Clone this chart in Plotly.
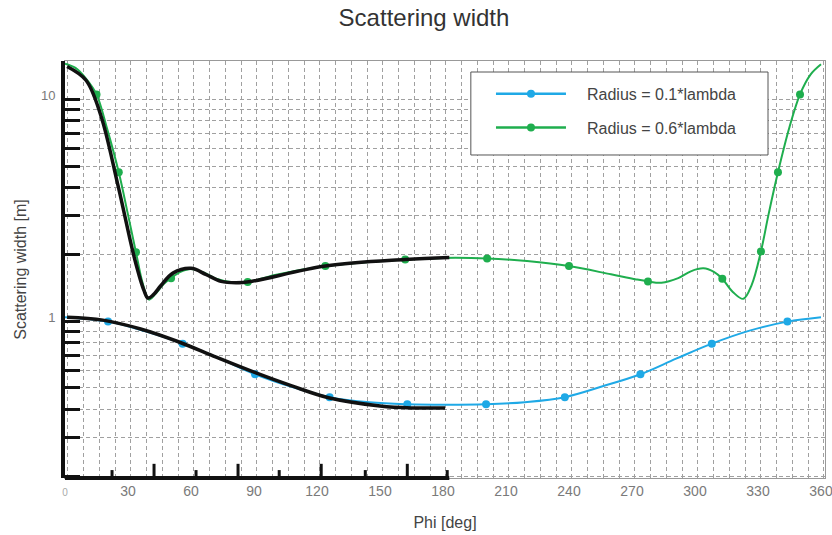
import plotly.graph_objects as go

# ---------------- data ----------------
phi_blue = [0, 20.5, 38, 56, 73, 90.5, 108, 126, 145, 163, 181,
            200.5, 219, 238, 256, 274, 291, 308, 326, 344, 360]
sw_blue = [1.0, 0.955, 0.865, 0.76, 0.655, 0.553, 0.485, 0.436, 0.413, 0.405, 0.403,
           0.405, 0.414, 0.436, 0.488, 0.553, 0.65, 0.76, 0.87, 0.955, 1.0]
phi_blue_markers = [20.5, 56, 90.5, 126, 163, 200.5, 238, 274, 308, 344]
sw_blue_markers = [0.955, 0.76, 0.553, 0.436, 0.405, 0.405, 0.436, 0.553, 0.76, 0.955]

phi_green = [0, 5, 10, 15, 20, 25.6, 30, 33.8, 37, 40, 43, 47, 50.5, 55, 60, 66, 72, 79, 87,
             100, 124, 140, 162, 180, 201, 220, 240, 260, 272, 277.6, 284, 292, 298, 304,
             309, 313, 318, 323, 327, 331.4, 335, 339.5, 345, 350, 355, 360]
sw_green = [13.9, 13.3, 11.9, 10.1, 7.1, 4.5, 2.9, 1.96, 1.42, 1.2, 1.27, 1.41, 1.5, 1.6, 1.65,
            1.59, 1.49, 1.44, 1.44, 1.55, 1.70, 1.76, 1.82, 1.85, 1.84, 1.79, 1.70, 1.56, 1.48,
            1.45, 1.43, 1.5, 1.61, 1.66, 1.6, 1.49, 1.3, 1.21, 1.4, 1.98, 2.9, 4.5, 7.2, 10.1,
            12.4, 13.8]
phi_green_markers = [15, 25.6, 33.8, 50.5, 87, 124, 162, 201, 240, 277.6, 313, 331.4, 339.5, 350]
sw_green_markers = [10.1, 4.5, 1.96, 1.5, 1.44, 1.70, 1.82, 1.84, 1.70, 1.45, 1.49, 1.98, 4.5, 10.1]

# hand-drawn black overlay strokes
phi_sketch_green = [1, 10, 17.1, 25.2, 33.3, 37.6, 39.5, 42, 45.7, 51.4, 60, 67, 74.3, 81.4,
                    88.6, 124, 162, 183]
sw_sketch_green = [13.5, 11.7, 8.1, 3.94, 1.81, 1.32, 1.22, 1.26, 1.39, 1.58, 1.66, 1.56, 1.45,
                   1.43, 1.45, 1.70, 1.82, 1.86]
phi_sketch_blue = [1, 18, 36, 54, 72, 90, 108, 126, 150, 165, 181]
sw_sketch_blue = [1.0, 0.97, 0.885, 0.775, 0.66, 0.565, 0.49, 0.432, 0.398, 0.39, 0.39]
sketch_axis_end = 183
sketch_tick_phi = [22.4, 42.4, 62.4, 82.4, 102, 122, 143, 163, 182]
sketch_tick_tall = [False, True, False, True, False, True, False, True, False]

x_tick_vals = [0, 30, 60, 90, 120, 150, 180, 210, 240, 270, 300, 330, 360]
y_tick_vals = [1, 10]

series_names = ["Radius = 0.1*lambda", "Radius = 0.6*lambda"]
BLUE = "#1fa9e6"
GREEN = "#1fae4e"
INK = "#111111"
GRID = "#a0a0a0"
PAD = "\u2002\u2002"  # visual gap between legend symbol and its label


def gapped(vals):
    out = []
    for v in vals:
        out += [v, None]
    return out


fig = go.Figure()

# smooth curves
fig.add_trace(go.Scatter(x=phi_blue, y=sw_blue, mode="lines", line=dict(color=BLUE, width=2, shape="spline"),
                         showlegend=False, legendgroup="b", hoverinfo="skip"))
fig.add_trace(go.Scatter(x=phi_green, y=sw_green, mode="lines", line=dict(color=GREEN, width=2, shape="spline"),
                         showlegend=False, legendgroup="g", hoverinfo="skip"))
# markers (+ legend entries)
fig.add_trace(go.Scatter(x=gapped(phi_blue_markers), y=gapped(sw_blue_markers), mode="lines+markers",
                         name=PAD + series_names[0], legendgroup="b", connectgaps=False,
                         line=dict(color=BLUE, width=2.5), marker=dict(color=BLUE, size=8)))
fig.add_trace(go.Scatter(x=gapped(phi_green_markers), y=gapped(sw_green_markers), mode="lines+markers",
                         name=PAD + series_names[1], legendgroup="g", connectgaps=False,
                         line=dict(color=GREEN, width=2.5), marker=dict(color=GREEN, size=8)))
# black sketch strokes
fig.add_trace(go.Scatter(x=phi_sketch_green, y=sw_sketch_green, mode="lines",
                         line=dict(color=INK, width=3.5, shape="spline"), showlegend=False, hoverinfo="skip"))
fig.add_trace(go.Scatter(x=phi_sketch_blue, y=sw_sketch_blue, mode="lines",
                         line=dict(color=INK, width=3.5, shape="spline"), showlegend=False, hoverinfo="skip"))
# helper (empty) trace so the grid / sketch y-axis is drawn
fig.add_trace(go.Scatter(x=[], y=[], xaxis="x", yaxis="y2", showlegend=False, hoverinfo="skip"))

# sketched bottom axis line and its ticks
shapes = [dict(type="line", xref="x", yref="paper", x0=0, x1=sketch_axis_end, y0=0, y1=0,
               line=dict(color=INK, width=4))]
for p, tall in zip(sketch_tick_phi, sketch_tick_tall):
    shapes.append(dict(type="line", xref="x", yref="paper", x0=p, x1=p, y0=0,
                       y1=0.034 if tall else 0.019, line=dict(color=INK, width=3)))
# legend frame
shapes.append(dict(type="rect", xref="paper", yref="paper", x0=0.534, x1=0.925, y0=0.7746, y1=0.9736,
                   fillcolor="white", line=dict(color="#555555", width=1), layer="above"))

x_tick_text = ["<span style='font-size:10px;color:#aaaaaa'>0</span>"] + [str(v) for v in x_tick_vals[1:]]

FONT = "Liberation Sans, Arial, Helvetica, sans-serif"

fig.update_layout(
    width=832, height=535,
    margin=dict(l=65, r=7, t=61, b=57),
    paper_bgcolor="white", plot_bgcolor="white",
    font=dict(family=FONT, color="#444444", size=12),
    title=dict(text="Scattering width", x=424 / 832, xref="container", xanchor="center",
               y=1 - 18 / 535, yanchor="middle", font=dict(size=24, color="#333333")),
    shapes=shapes,
    showlegend=True,
    legend=dict(x=0.5605, y=0.962, xanchor="left", yanchor="top", bgcolor="rgba(0,0,0,0)",
                borderwidth=0, font=dict(size=16, color="#444444"),
                itemwidth=70, traceorder="grouped", tracegroupgap=10),
    xaxis=dict(range=[0, 361.9], tickvals=x_tick_vals, ticktext=x_tick_text, ticks="",
               showgrid=False, zeroline=False, showline=True, linecolor="#999999", linewidth=1,
               mirror=True, tickfont=dict(size=14, color="#7a7a7a"), ticklabeloverflow="allow",
               minor=dict(tick0=1.4, dtick=7.5, showgrid=True, gridcolor=GRID, gridwidth=1,
                          griddash="4px,3px", ticks=""),
               title=dict(text="Phi [deg]", font=dict(size=16, color="#444444"), standoff=19),
               automargin=False),
    yaxis=dict(type="log", range=[-0.725, 1.155], tickvals=y_tick_vals, ticktext=["1", "10"],
               ticks="", showgrid=False, zeroline=False, showline=True, linecolor="#999999",
               linewidth=1, mirror=True, tickfont=dict(size=13, color="#7a7a7a"),
               ticklabelstandoff=6,
               title=dict(text="Scattering width [m]", font=dict(size=16, color="#444444"), standoff=10),
               automargin=False),
    yaxis2=dict(type="log", range=[-0.707, 1.173], overlaying="y", side="left", anchor="x",
                dtick="D1", showticklabels=False, ticks="inside", ticklen=15, tickwidth=3,
                tickcolor=INK, showline=True, linecolor=INK, linewidth=4, showgrid=True,
                gridcolor=GRID, gridwidth=1, griddash="4px,3px", zeroline=False),
)

fig.write_html("out.html", config=dict(displayModeBar=False),
               post_script="document.body.style.margin='0';")
